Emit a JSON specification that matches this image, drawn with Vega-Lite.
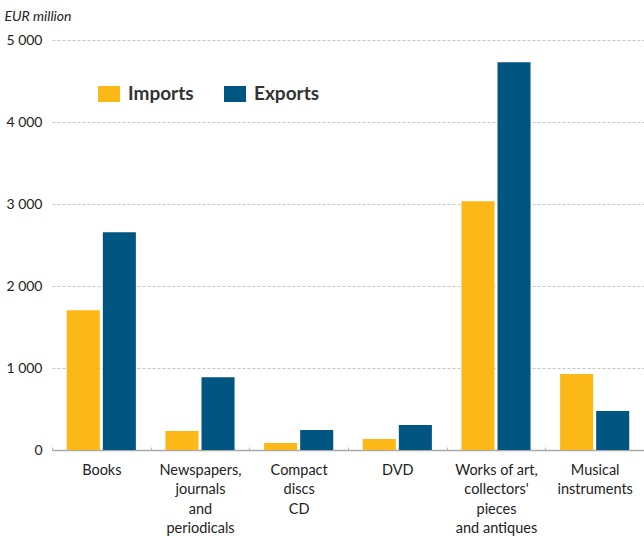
{
  "$schema": "https://vega.github.io/schema/vega-lite/v6.json",
  "autosize": {"type": "none"},
  "padding": {"left": 52, "top": 40, "right": 0, "bottom": 86},
  "width": 592,
  "height": 410,
  "background": "white",
  "config": {
    "font": "Lato",
    "view": {"stroke": null}
  },
  "data": {
    "values": [
      {"category": "Books", "flow": "Imports", "value": 1703},
      {"category": "Books", "flow": "Exports", "value": 2656},
      {"category": "Newspapers, journals and periodicals", "flow": "Imports", "value": 231},
      {"category": "Newspapers, journals and periodicals", "flow": "Exports", "value": 888},
      {"category": "Compact discs CD", "flow": "Imports", "value": 85},
      {"category": "Compact discs CD", "flow": "Exports", "value": 244},
      {"category": "DVD", "flow": "Imports", "value": 134},
      {"category": "DVD", "flow": "Exports", "value": 305},
      {"category": "Works of art, collectors' pieces and antiques", "flow": "Imports", "value": 3035},
      {"category": "Works of art, collectors' pieces and antiques", "flow": "Exports", "value": 4730},
      {"category": "Musical instruments", "flow": "Imports", "value": 927},
      {"category": "Musical instruments", "flow": "Exports", "value": 476}
    ]
  },
  "mark": {"type": "bar"},
  "encoding": {
    "x": {
      "field": "category",
      "type": "nominal",
      "sort": null,
      "scale": {"paddingInner": 0, "paddingOuter": 0},
      "axis": {
        "title": null,
        "labelAngle": 0,
        "labelFontSize": 14.5,
        "labelColor": "#222",
        "labelPadding": 16,
        "labelLineHeight": 19.5,
        "labelBaseline": "top",
        "domainColor": "#aaa",
        "domainWidth": 1.5,
        "tickBand": "extent",
        "tickSize": -3,
        "tickColor": "#bbb",
        "labelExpr": "datum.value == 'Newspapers, journals and periodicals' ? ['Newspapers,', 'journals', 'and', 'periodicals'] : datum.value == 'Compact discs CD' ? ['Compact', 'discs', 'CD'] : datum.value == \"Works of art, collectors' pieces and antiques\" ? ['Works of art,', \"collectors'\", 'pieces', 'and antiques'] : datum.value == 'Musical instruments' ? ['Musical', 'instruments'] : datum.value"
      }
    },
    "xOffset": {
      "field": "flow",
      "type": "nominal",
      "sort": ["Imports", "Exports"],
      "scale": {"paddingInner": 0.083, "paddingOuter": 0.41}
    },
    "y": {
      "field": "value",
      "type": "quantitative",
      "scale": {"domain": [0, 5000], "nice": false},
      "axis": {
        "title": "EUR million",
        "titleAngle": 0,
        "titleAlign": "left",
        "titleBaseline": "alphabetic",
        "titleX": -48,
        "titleY": -20,
        "titleFontStyle": "italic",
        "titleFontWeight": "normal",
        "titleFontSize": 14,
        "titleColor": "#222",
        "values": [0, 1000, 2000, 3000, 4000, 5000],
        "labelExpr": "replace(format(datum.value, ','), ',', ' ')",
        "labelFontSize": 14,
        "labelColor": "#222",
        "labelPadding": 10,
        "domain": false,
        "ticks": false,
        "gridColor": "#c4c4c4",
        "gridDash": [3, 2],
        "gridWidth": 1
      }
    },
    "color": {
      "field": "flow",
      "type": "nominal",
      "sort": ["Imports", "Exports"],
      "scale": {"domain": ["Imports", "Exports"], "range": ["#FBB817", "#005581"]},
      "legend": {
        "title": null,
        "orient": "none",
        "legendX": 46,
        "legendY": 43,
        "direction": "horizontal",
        "symbolType": "M-1,-0.73H1V0.73H-1Z",
        "symbolSize": 484,
        "symbolStrokeWidth": 0,
        "labelFontSize": 19,
        "labelFontWeight": "bold",
        "labelColor": "#333",
        "labelOffset": 8,
        "columnPadding": 30
      }
    }
  }
}
